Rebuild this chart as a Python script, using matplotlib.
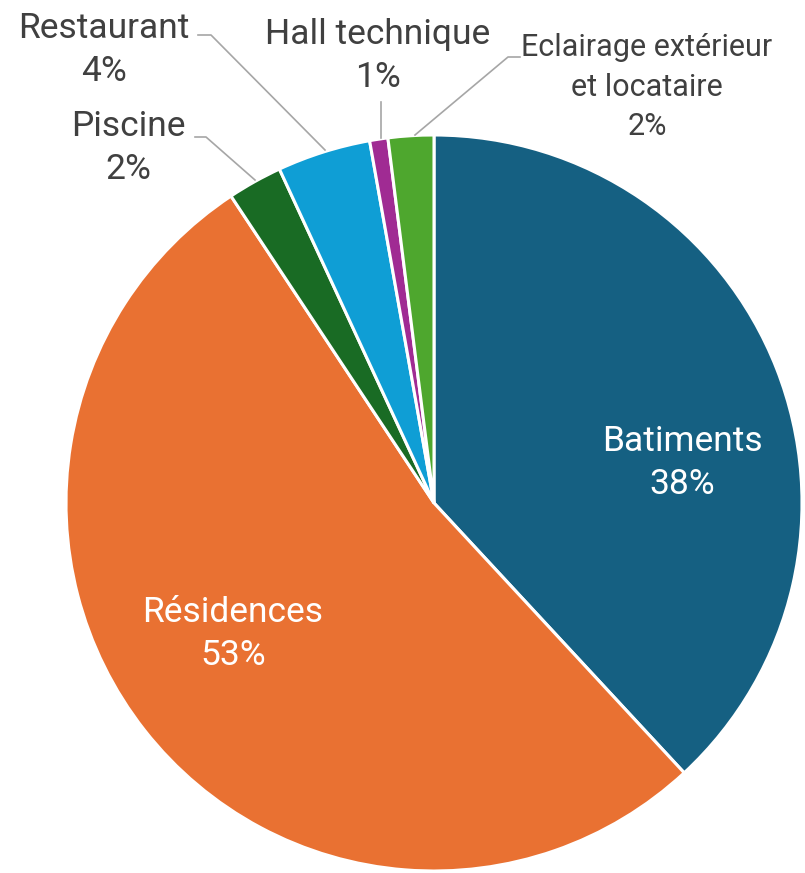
import matplotlib.pyplot as plt

plt.rcParams['font.family'] = ['Roboto', 'DejaVu Sans']

labels = ['Batiments', 'Résidences', 'Piscine', 'Restaurant', 'Hall technique',
          'Eclairage extérieur\net locataire']
values = [38.1, 52.6, 2.4, 4.1, 0.8, 2.0]
colors = ['#156082', '#E97132', '#196B24', '#0F9ED5', '#A02B93', '#4EA72E']

W, H = 805, 873
fig = plt.figure(figsize=(W / 100, H / 100), dpi=100)
ax = fig.add_axes([0, 0, 1, 1])

cx, cy, r = 434, H - 503, 368
ax.pie(values, colors=colors, startangle=90, counterclock=False,
       center=(cx, cy), radius=r,
       wedgeprops=dict(edgecolor='white', linewidth=2.2))

total = sum(values)
pct = [f"{round(v / total * 100)}%" for v in values]

# label positions in pixels (x, y from top)
pos = [(682, 463), (233, 634), (128, 148), (104, 50), (378, 56), (647, 87)]
inside = [True, True, False, False, False, False]
for lab, p, (x, y), ins in zip(labels, pct, pos, inside):
    small = 'Eclairage' in lab
    col = 'white' if ins else '#404040'
    ax.text(x, H - y, lab + '\n' + p, ha='center', va='center',
            fontsize=22 if small else 25.5, color=col,
            linespacing=1.45 if small else 1.42)

# leader lines (pixel coords)
leaders = [
    [(195, 137), (206, 137), (255, 180)],
    [(198, 35), (211, 35), (325, 150)],
    [(381, 102), (381, 138)],
    [(520, 57), (508, 57), (415, 135)],
]
for pts in leaders:
    ax.plot([p[0] for p in pts], [H - p[1] for p in pts], color='#a6a6a6', lw=1.2)

ax.set_xlim(0, W)
ax.set_ylim(0, H)
ax.set_aspect('equal')
ax.axis('off')
fig.savefig('out.png', dpi=100)
